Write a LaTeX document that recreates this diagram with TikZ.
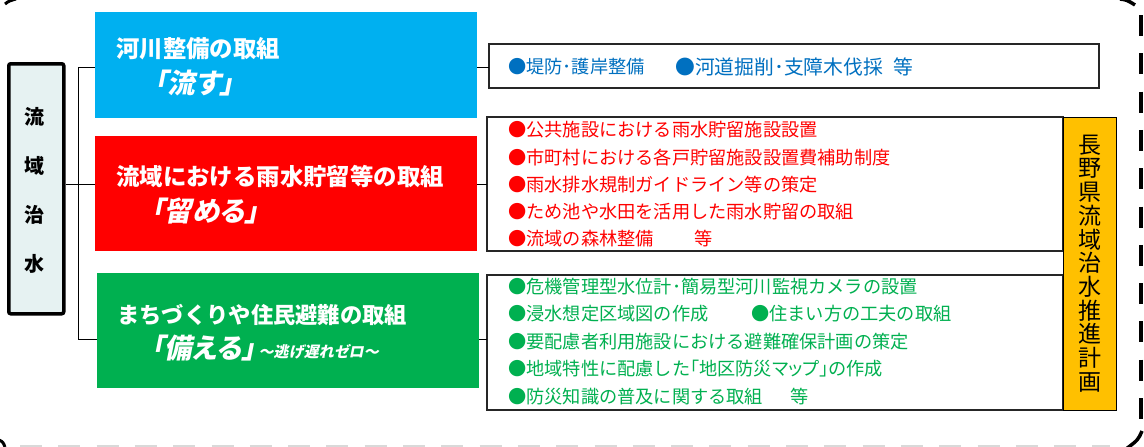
\documentclass[tikz,border=0pt]{standalone}
\usepackage{fontspec}
\setmainfont{Noto Sans CJK JP}
\newfontfamily\jpit[FakeSlant=0.2,RawFeature=+palt]{Noto Sans CJK JP}
\definecolor{cblue}{HTML}{00B0F0}
\definecolor{cred}{HTML}{FF0000}
\definecolor{cgreen}{HTML}{00B050}
\definecolor{cyel}{HTML}{FFC000}
\definecolor{cbtext}{HTML}{0070C0}
\definecolor{cleft}{HTML}{E6F2F2}
\begin{document}
\begin{tikzpicture}[x=1pt,y=-1pt,
  conn/.style={draw=black,line width=1pt},
  catbox/.style={anchor=north west,inner sep=0,outer sep=0},
  listbox/.style={draw=black!85,line width=1.4pt,fill=white,anchor=north west,inner sep=0,outer sep=0},
  ttl/.style={anchor=west,inner sep=0,text=white,font=\bfseries\fontsize{23.4}{28}\selectfont},
  ital/.style={anchor=west,inner sep=0,text=white,font=\jpit\bfseries\fontsize{27.5}{30}\selectfont},
  lt/.style={anchor=west,inner sep=0,font=\fontsize{18.2}{22}\selectfont}]
\useasboundingbox (0,0) rectangle (1144,447);

% outer dashed frame fragments
\draw[line width=4pt,dash pattern=on 21pt off 17.3pt] (1141,15) -- (1141,425);
\draw[black!15,line width=1.3pt,dash pattern=on 22pt off 16.3pt] (20,446) -- (1110,446);
\draw[line width=3.5pt] (1120,-1) .. controls (1127,0) .. (1135,5);
\draw[line width=3.5pt] (1142,431) .. controls (1138,440) .. (1126,449);
\draw[line width=3pt] (5,4) .. controls (9,1) .. (16,-1);
\draw[line width=3pt] (-1,440) .. controls (3,442) .. (5,447);

% left box
\node[draw=black,line width=3.5pt,fill=cleft,rounded corners=2pt,anchor=north west,
  minimum width=55pt,minimum height=250pt,inner sep=0] (lb) at (7,62) {};
\node[font=\bfseries\fontsize{20}{49}\selectfont,align=center,inner sep=0] (lbt) at (34.5,190)
  {流\\域\\治\\水};

% list boxes
\node[listbox,minimum width=610pt,minimum height=44pt] (bl) at (489,44) {};
\node[listbox,minimum width=576pt,minimum height=134pt] (rl) at (487,117) {};
\node[listbox,minimum width=576pt,minimum height=135pt] (gl) at (487,275) {};
\node[draw=black,line width=1.4pt,fill=cyel,anchor=north west,inner sep=0,
  minimum width=53pt,minimum height=293pt] (yb) at (1063,117) {};
\node[align=center,inner sep=0,font=\fontsize{23}{23.7}\selectfont] (ybt) at (1089.5,263.5)
  {長\\野\\県\\流\\域\\治\\水\\推\\進\\計\\画};

% connectors
\coordinate (s1) at (78,67);
\coordinate (s2) at (78,184);
\coordinate (s3) at (78,339);
\draw[conn] (s1) -- (s3);
\draw[conn] (lb.east |- s2) -- (s2);
\draw[conn] (s1) -- (s1 -| bl.west);
\draw[conn] (s2) -- (s2 -| rl.west);
\draw[conn] (s3) -- (s3 -| gl.west);

% category boxes
\node[catbox,fill=cblue,minimum width=382pt,minimum height=106pt] (cb) at (95,12) {};
\node[catbox,fill=cred,minimum width=382pt,minimum height=115pt] (cr) at (95,136) {};
\node[catbox,fill=cgreen,minimum width=382pt,minimum height=115pt] (cg) at (97,273) {};

\node[ttl] (cbt) at (116,49) {河川整備の取組};
\node[ital] (cbi) at (154,83) {「流す」};
\node[ttl] (crt) at (116,177) {流域における雨水貯留等の取組};
\node[ital] (cri) at (151,211) {「留める」};
\node[ttl,font=\bfseries\fontsize{22.3}{27}\selectfont] (cgt) at (117,315) {まちづくりや住民避難の取組};
\node[ital] (cgi) at (151,348) {「備える」};
\node[anchor=west,inner sep=0,text=white,font=\jpit\bfseries\fontsize{15}{18}\selectfont]
  (cgs) at ([xshift=3pt,yshift=-4pt]cgi.east) {～逃げ遅れゼロ～};

% blue list
\node[lt,text=cbtext] (b1) at (508,67) {●堤防･護岸整備};
\node[lt,text=cbtext,font=\fontsize{19.8}{22}\selectfont] (b2) at (675,67) {●河道掘削･支障木伐採};
\node[lt,text=cbtext,font=\fontsize{19.8}{22}\selectfont] (b3) at (893,67) {等};

% red list
\node[lt,text=cred] (r1) at (508,130) {●公共施設における雨水貯留施設設置};
\node[lt,text=cred] (r2) at (508,158) {●市町村における各戸貯留施設設置費補助制度};
\node[lt,text=cred] (r3) at (508,185) {●雨水排水規制ガイドライン等の策定};
\node[lt,text=cred] (r4) at (508,212) {●ため池や水田を活用した雨水貯留の取組};
\node[lt,text=cred] (r5) at (508,239) {●流域の森林整備};
\node[lt,text=cred] (r5b) at (694,239) {等};

% green list
\node[lt,text=cgreen] (g1) at (508,287) {●危機管理型水位計･簡易型河川監視カメラの設置};
\node[lt,text=cgreen] (g2) at (508,314) {●浸水想定区域図の作成};
\node[lt,text=cgreen] (g2b) at (751,314) {●住まい方の工夫の取組};
\node[lt,text=cgreen] (g3) at (508,342) {●要配慮者利用施設における避難確保計画の策定};
\node[lt,text=cgreen] (g4) at (508,369) {●地域特性に配慮した{\addfontfeature{RawFeature=+palt}「地区防災マップ」}の作成};
\node[lt,text=cgreen] (g5) at (508,397) {●防災知識の普及に関する取組};
\node[lt,text=cgreen] (g5b) at (790,397) {等};
\end{tikzpicture}
\end{document}
